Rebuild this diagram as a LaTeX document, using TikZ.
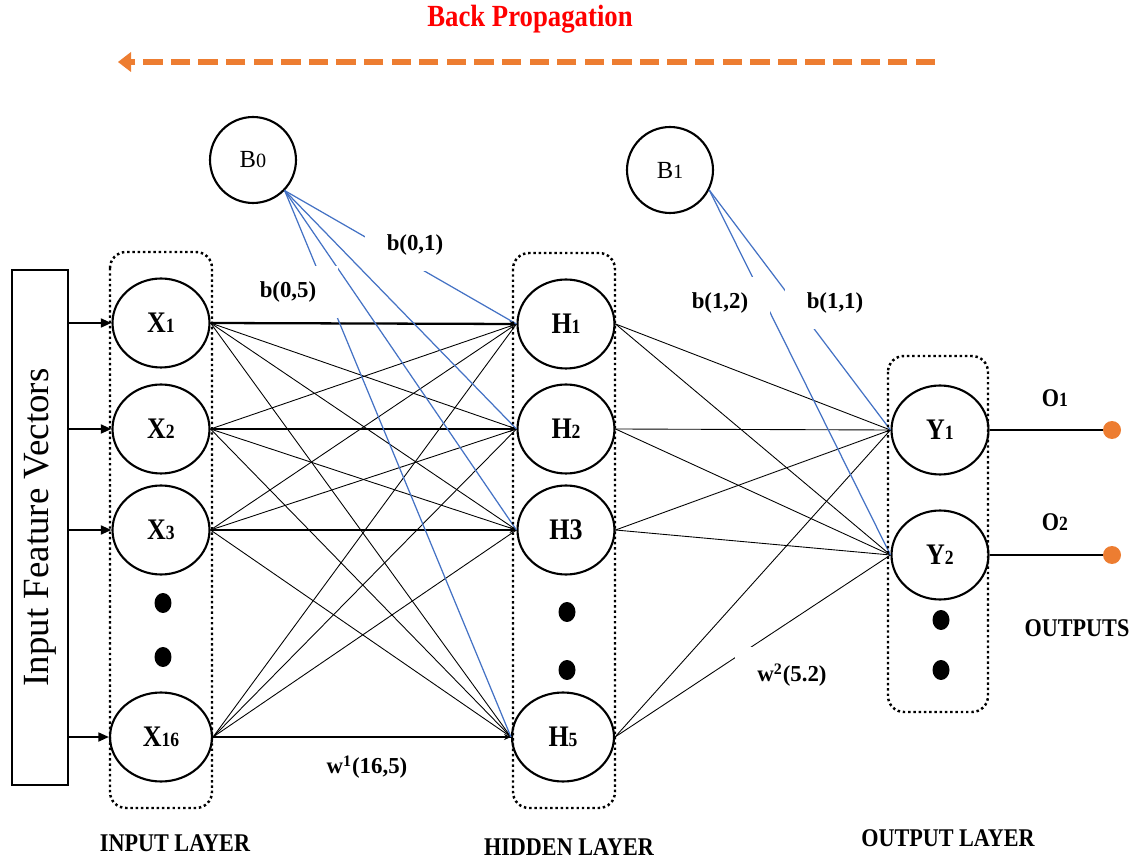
\documentclass[tikz,border=0pt]{standalone}
\usepackage{fontspec}
\setmainfont{Liberation Serif}
\newfontfamily\condfont[FakeStretch=0.87]{Liberation Serif}
\usetikzlibrary{shapes.geometric,arrows.meta,calc}
\definecolor{bporange}{RGB}{237,125,49}
\definecolor{bpblue}{RGB}{68,114,196}
\newcommand\nsub[1]{{\fontsize{11.5}{12}\selectfont #1}}
\begin{document}
\begin{tikzpicture}[x=0.02cm,y=-0.02cm,
 neuron/.style={ellipse,draw,line width=1.2pt,minimum width=1.94cm,minimum height=1.78cm,inner sep=0pt,fill=white,font=\condfont\bfseries\fontsize{17}{19}\selectfont},
 bigneuron/.style={neuron,minimum width=2.04cm},
 biasnode/.style={circle,draw,line width=1.2pt,minimum size=1.72cm,inner sep=0pt,fill=white,font=\fontsize{14}{16}\selectfont},
 layerbox/.style={draw,line width=1.4pt,dash pattern=on 1.4pt off 1.6pt,rounded corners=0.32cm},
 conn/.style={line width=0.5pt},
 mainconn/.style={line width=1.3pt,-{Stealth[length=4pt,width=3.5pt]}},
 biasconn/.style={bpblue,line width=0.7pt},
 inarrow/.style={line width=1.3pt,-{Triangle[length=6pt,width=5pt]}},
 outline/.style={line width=1.3pt},
 outdot/.style={circle,fill=bporange,minimum size=0.36cm,inner sep=0pt},
 vdot/.style={ellipse,fill=black,minimum width=0.34cm,minimum height=0.4cm,inner sep=0pt},
 layerlbl/.style={font=\condfont\bfseries\fontsize{14.5}{16}\selectfont},
 wfont/.style={font=\bfseries\fontsize{13}{14}\selectfont},
 blbl/.style={wfont,fill=white,inner xsep=0.44cm,inner ysep=0.32cm},
 ]
\useasboundingbox (0,0) rectangle (1133,861);

% title and back-propagation arrow
\node[font=\condfont\bfseries\fontsize{17.5}{20}\selectfont,text=red] (title) at (530,19) {Back Propagation};
\coordinate (bpstart) at (935,62);
\coordinate (bpend) at (131,62);
\draw[bporange,line width=3.8pt,dash pattern=on 11pt off 4.7pt] (bpstart) -- (bpend);
\fill[bporange] ($(bpend)+(0,-10)$) -- ($(bpend)+(-13,0)$) -- ($(bpend)+(0,10)$) -- cycle;

% input feature box
\node[draw,line width=0.9pt,minimum width=1.12cm,minimum height=10.3cm,inner sep=0pt,font=\fontsize{21}{23}\selectfont] (ifv) at (40,527.5) {\rotatebox{90}{Input Feature Vectors}};

% neurons
\node[neuron] (X1) at (161,323) {X\nsub{1}};
\node[neuron] (X2) at (161,429) {X\nsub{2}};
\node[neuron] (X3) at (161,530) {X\nsub{3}};
\node[bigneuron] (X16) at (161,737) {X\nsub{\bfseries 16}};
\node[neuron] (H1) at (566,324) {H\nsub{1}};
\node[neuron] (H2) at (566,429) {H\nsub{2}};
\node[neuron] (H3) at (566,530) {H3};
\node[bigneuron] (H5) at (563,737) {H\nsub{5}};
\node[neuron] (Y1) at (940,430) {Y\nsub{1}};
\node[neuron] (Y2) at (940,555) {Y\nsub{2}};
\node[biasnode] (B0) at (253,160) {B\nsub{0}};
\node[biasnode] (B1) at (670,170) {B\nsub{1}};

% ellipsis dots
\node[vdot] (xd1) at (163,603) {};
\node[vdot] (xd2) at (163,657) {};
\node[vdot] (hd1) at (567,612) {};
\node[vdot] (hd2) at (567,670) {};
\node[vdot] (yd1) at (941,620) {};
\node[vdot] (yd2) at (941,670) {};

% input arrows
\foreach \n in {X1,X2,X3,X16}
  \draw[inarrow] (ifv.east |- \n) -- (\n.west);

% input -> hidden
\foreach \i in {X1,X2,X3,X16}
  \foreach \j in {H1,H2,H3,H5}
    \draw[conn] (\i.east) -- (\j.west);
\draw[mainconn] (X1.east) -- (H1.west);
\draw[mainconn] (X2.east) -- (H2.west);
\draw[mainconn] (X3.east) -- (H3.west);
\draw[mainconn] (X16.east) -- (H5.west);

% hidden -> output
\foreach \i in {H1,H2,H3,H5}
  \foreach \j in {Y1,Y2}
    \draw[conn] (\i.east) -- (\j.west);

% bias connections
\foreach \j in {H1,H2,H3,H5}
  \draw[biasconn] (B0.-44) -- (\j.west);
\foreach \j in {Y1,Y2}
  \draw[biasconn] (B1.-27) -- (\j.west);

% outputs
\node[outdot] (o1) at (1112,430) {};
\node[outdot] (o2) at (1112,555) {};
\draw[outline] (Y1.east) -- (o1);
\draw[outline] (Y2.east) -- (o2);

% weight labels
\node[blbl] (lb01) at (415,245) {b(0,1)};
\node[blbl] (lb05) at (288,292) {b(0,5)};
\node[blbl] (lb12) at (720,303) {b(1,2)};
\node[blbl] (lb11) at (835,303) {b(1,1)};
\node[wfont] (lw1) at (367,767) {w\textsuperscript{1}(16,5)};
\node[blbl] (lw2) at (792,675) {w\textsuperscript{2}(5.2)};

% output labels
\node[layerlbl] (lo1) at (1055,398) {O\nsub{1}};
\node[layerlbl] (lo2) at (1055,522) {O\nsub{2}};
\node[layerlbl] (louts) at (1077,628) {OUTPUTS};

% layer boxes
\draw[layerbox] (110,252) rectangle (212,808);
\draw[layerbox] (513,253) rectangle (615,808);
\draw[layerbox] (888,356) rectangle (988,712);

% layer names
\node[layerlbl] (lin) at (175,843) {INPUT LAYER};
\node[layerlbl] (lhid) at (569,847) {HIDDEN LAYER};
\node[layerlbl] (lout) at (948,838) {OUTPUT LAYER};
\end{tikzpicture}
\end{document}
